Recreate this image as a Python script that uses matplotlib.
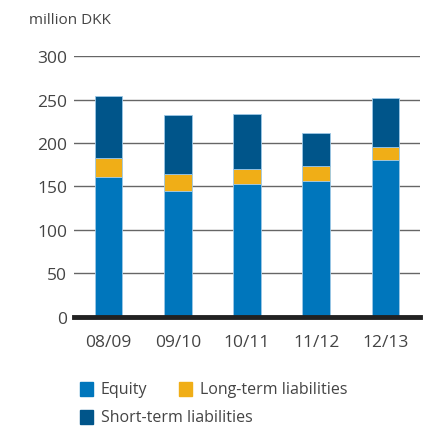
"""
Equity and liabilities, million DKK - stacked bars
"""
import matplotlib
matplotlib.use('Agg')
import matplotlib.pyplot as plt
from matplotlib.patches import Rectangle
import numpy as np

plt.rcParams['font.family'] = ['Open Sans', 'DejaVu Sans']

# ========== data ==========
years = ['08/09', '09/10', '10/11', '11/12', '12/13']
equity = [161, 145, 153, 156, 180]
long_term = [22, 19, 17, 17, 15]
short_term = [71, 68, 63, 39, 57]
y_ticks = [0, 50, 100, 150, 200, 250, 300]

C_EQ = '#0076BC'
C_LT = '#F0AE17'
C_ST = '#00558A'
TXT = '#444444'

fig = plt.figure(figsize=(4.24, 4.27), dpi=100)
ax = fig.add_axes([0.1745, 0.2553, 0.816, 0.6112])

x = np.arange(len(years))
eq = np.array(equity)
lt = np.array(long_term)
st = np.array(short_term)
w = 0.4
ax.bar(x, eq, w, color=C_EQ, edgecolor='#9cc8e6', linewidth=0.6, zorder=3)
ax.bar(x, lt, w, bottom=eq, color=C_LT, edgecolor='#9cc8e6', linewidth=0.6, zorder=3)
ax.bar(x, st, w, bottom=eq + lt, color=C_ST, edgecolor='#9cc8e6', linewidth=0.6, zorder=3)

ax.set_xlim(-0.5, len(years) - 0.5)
ax.set_ylim(0, 300)
ax.set_yticks(y_ticks)
ax.set_xticks(x)
ax.set_xticklabels(years)
ax.yaxis.grid(True, color='#666666', linewidth=1.0, zorder=0)
ax.set_axisbelow(True)
for s in ['top', 'right', 'left']:
    ax.spines[s].set_visible(False)
ax.spines['bottom'].set_color('#222222')
ax.spines['bottom'].set_linewidth(3.5)
ax.spines['bottom'].set_zorder(5)
ax.tick_params(axis='both', length=0, labelsize=12.5, colors=TXT)
ax.tick_params(axis='y', pad=5)
ax.tick_params(axis='x', pad=12)

fig.text(29 / 424, 1 - 20 / 427, 'million DKK', fontsize=11, color=TXT,
         ha='left', va='center')

# legend drawn by hand (row layout as in the original)
items = [(80, 390, C_EQ, 'Equity'),
         (179, 390, C_LT, 'Long-term liabilities'),
         (80, 418, C_ST, 'Short-term liabilities')]
for px, py, c, label in items:
    fig.add_artist(Rectangle((px / 424, 1 - (py + 7) / 427), 13 / 424, 14 / 427,
                             transform=fig.transFigure, color=c))
    fig.text((px + 21) / 424, 1 - py / 427, label, fontsize=11.5, color=TXT,
             ha='left', va='center')

plt.savefig('out.png', dpi=100)
plt.close()
